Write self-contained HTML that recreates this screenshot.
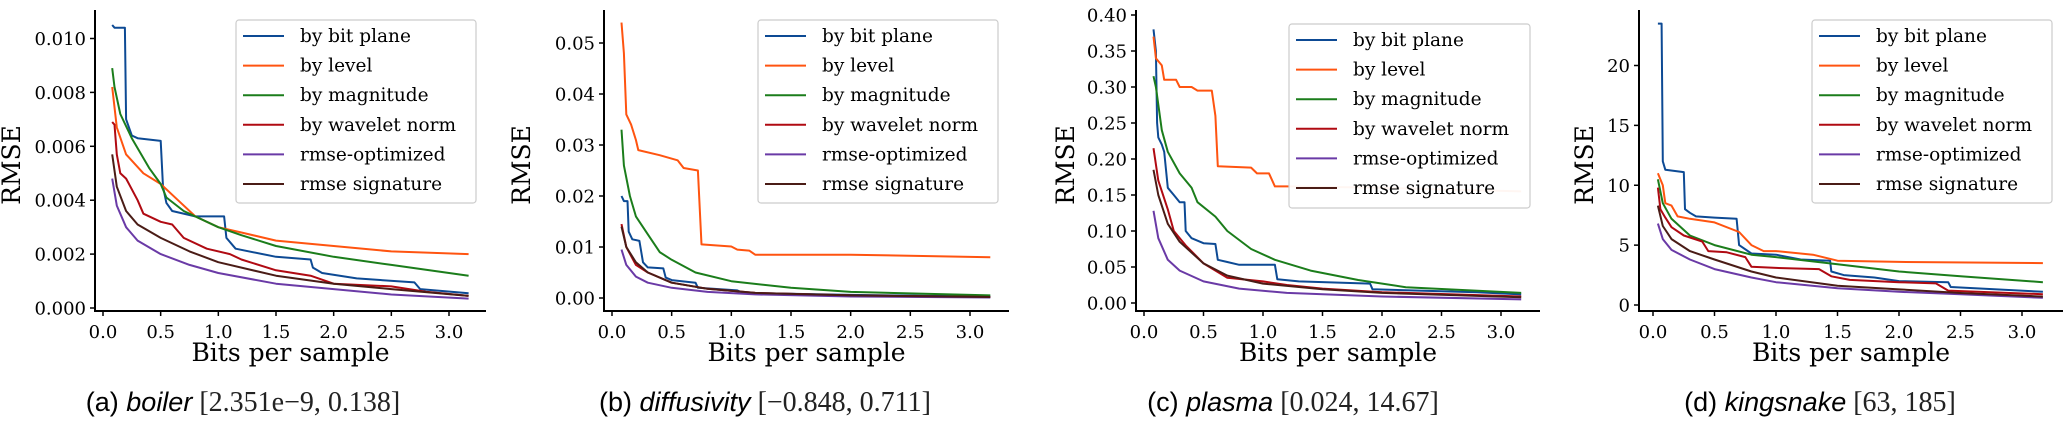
<!DOCTYPE html>
<html><head><meta charset="utf-8">
<style>
html,body{margin:0;padding:0;background:#fff;}
svg{display:block;}
.tick{font-family:"DejaVu Serif","Liberation Serif",serif;font-size:18px;fill:#000;}
.axlab{font-family:"DejaVu Serif","Liberation Serif",serif;font-size:25px;fill:#000;}
.leg{font-family:"DejaVu Serif","Liberation Serif",serif;font-size:18.5px;fill:#000;}
.cap{font-family:"Liberation Sans",sans-serif;font-size:27px;fill:#000;}
.capm{font-family:"Liberation Serif",serif;font-size:28px;fill:#222;}
</style></head>
<body>
<svg id="fig" width="2068" height="423" viewBox="0 0 2068 423" xmlns="http://www.w3.org/2000/svg"></svg>
<script>
const seriesNames = ["by bit plane","by level","by magnitude","by wavelet norm","rmse-optimized","rmse signature"];
const seriesColors = ["#0d4a94","#ff5410","#1b7d1b","#b00a12","#6a3aa6","#4a1c16"];

// Panel (a) boiler
const aX0=[0.08,0.1,0.19,0.2,0.25,0.3,0.5,0.52,0.55,0.6,0.8,1.05,1.07,1.15,1.5,1.8,1.82,1.9,2.2,2.7,2.75,3.17];
const aY0=[0.0105,0.0104,0.0104,0.007,0.0064,0.0063,0.0062,0.0045,0.0039,0.0036,0.0034,0.0034,0.0026,0.0022,0.0019,0.0018,0.0015,0.0013,0.0011,0.00095,0.0007,0.00055];
const aX1=[0.08,0.12,0.2,0.35,0.5,0.65,0.8,1.0,1.2,1.5,2.0,2.5,3.17];
const aY1=[0.0082,0.0067,0.0057,0.005,0.0046,0.004,0.0034,0.003,0.0028,0.0025,0.0023,0.0021,0.002];
const aX2=[0.08,0.1,0.15,0.25,0.4,0.5,0.55,0.7,1.0,1.2,1.5,2.0,2.5,3.17];
const aY2=[0.0089,0.0082,0.0072,0.0063,0.0052,0.0046,0.0041,0.0036,0.003,0.0027,0.0023,0.0019,0.0016,0.0012];
const aX3=[0.08,0.1,0.12,0.15,0.2,0.3,0.35,0.5,0.6,0.7,0.9,1.1,1.2,1.5,1.8,2.0,2.5,2.8,3.17];
const aY3=[0.0069,0.0068,0.0057,0.005,0.0048,0.004,0.0035,0.0032,0.0031,0.0026,0.0022,0.002,0.0018,0.0014,0.0012,0.0009,0.0008,0.0006,0.00045];
const aX4=[0.08,0.12,0.2,0.3,0.5,0.75,1.0,1.5,2.0,2.5,3.17];
const aY4=[0.0048,0.0038,0.003,0.0025,0.002,0.0016,0.0013,0.0009,0.0007,0.0005,0.00035];
const aX5=[0.08,0.12,0.2,0.3,0.5,0.75,1.0,1.5,2.0,2.5,3.17];
const aY5=[0.0057,0.0045,0.0036,0.0031,0.0026,0.0021,0.0017,0.0012,0.0009,0.0007,0.00045];
const aYTicks=[0,0.002,0.004,0.006,0.008,0.010];
const aYLabels=["0.000","0.002","0.004","0.006","0.008","0.010"];

// Panel (b) diffusivity
const bX0=[0.08,0.1,0.13,0.14,0.17,0.23,0.26,0.3,0.43,0.45,0.5,0.7,0.72,1.05,1.1,2.0,3.17];
const bY0=[0.02,0.019,0.019,0.013,0.0115,0.0112,0.007,0.006,0.0058,0.004,0.0035,0.003,0.002,0.0015,0.001,0.0006,0.0003];
const bX1=[0.08,0.1,0.12,0.16,0.2,0.22,0.4,0.55,0.6,0.72,0.75,1.0,1.05,1.15,1.2,2.0,3.17];
const bY1=[0.054,0.048,0.036,0.034,0.031,0.029,0.028,0.027,0.0255,0.025,0.0105,0.0101,0.0095,0.0093,0.0085,0.0085,0.008];
const bX2=[0.08,0.1,0.15,0.2,0.3,0.4,0.5,0.7,1.0,1.5,2.0,3.17];
const bY2=[0.033,0.026,0.02,0.016,0.0125,0.009,0.0075,0.005,0.0033,0.002,0.0012,0.0005];
const bX3=[0.08,0.12,0.2,0.3,0.5,0.8,1.2,2.0,3.17];
const bY3=[0.0145,0.01,0.0065,0.005,0.003,0.0018,0.001,0.0005,0.0002];
const bX4=[0.08,0.12,0.2,0.3,0.5,0.8,1.2,2.0,3.17];
const bY4=[0.0095,0.0065,0.0042,0.003,0.002,0.0012,0.0007,0.0003,0.0001];
const bX5=[0.08,0.12,0.2,0.3,0.5,0.8,1.2,2.0,3.17];
const bY5=[0.014,0.01,0.007,0.005,0.003,0.0018,0.001,0.0005,0.0002];
const bYTicks=[0,0.01,0.02,0.03,0.04,0.05];
const bYLabels=["0.00","0.01","0.02","0.03","0.04","0.05"];

// Panel (c) plasma
const cX0=[0.08,0.1,0.11,0.12,0.15,0.17,0.2,0.25,0.3,0.34,0.35,0.4,0.5,0.6,0.62,0.7,0.8,1.1,1.12,1.3,1.9,1.92,2.8,3.17];
const cY0=[0.38,0.35,0.25,0.23,0.22,0.21,0.16,0.15,0.14,0.14,0.1,0.09,0.083,0.082,0.06,0.057,0.053,0.053,0.033,0.03,0.027,0.019,0.015,0.012];
const cX1=[0.08,0.1,0.15,0.17,0.27,0.3,0.4,0.45,0.57,0.6,0.62,0.9,0.95,1.05,1.1,1.2,2.0,3.17];
const cY1=[0.37,0.34,0.33,0.31,0.31,0.3,0.3,0.295,0.295,0.26,0.19,0.188,0.18,0.18,0.162,0.162,0.16,0.155];
const cX2=[0.08,0.1,0.15,0.2,0.3,0.4,0.45,0.6,0.7,0.9,1.1,1.4,1.8,2.2,3.17];
const cY2=[0.315,0.3,0.24,0.21,0.18,0.16,0.14,0.12,0.1,0.075,0.06,0.045,0.032,0.022,0.014];
const cX3=[0.08,0.12,0.2,0.25,0.35,0.5,0.7,1.0,1.2,1.5,2.0,3.17];
const cY3=[0.215,0.17,0.13,0.1,0.08,0.055,0.035,0.03,0.025,0.02,0.015,0.009];
const cX4=[0.08,0.12,0.2,0.3,0.5,0.8,1.2,2.0,3.17];
const cY4=[0.128,0.09,0.06,0.045,0.03,0.02,0.014,0.009,0.005];
const cX5=[0.08,0.12,0.2,0.3,0.5,0.7,1.0,1.5,2.0,3.17];
const cY5=[0.185,0.15,0.11,0.085,0.055,0.038,0.027,0.019,0.014,0.008];
const cYTicks=[0,0.05,0.1,0.15,0.2,0.25,0.3,0.35,0.4];
const cYLabels=["0.00","0.05","0.10","0.15","0.20","0.25","0.30","0.35","0.40"];

// Panel (d) kingsnake
const dX0=[0.04,0.07,0.08,0.1,0.25,0.26,0.3,0.35,0.5,0.68,0.7,0.8,1.0,1.2,1.44,1.45,1.55,1.8,2.0,2.4,2.42,3.17];
const dY0=[23.5,23.5,12,11.3,11.1,8,7.7,7.4,7.3,7.2,5,4.3,4.2,3.8,3.7,2.8,2.5,2.3,2.0,1.9,1.5,1.1];
const dX1=[0.04,0.08,0.1,0.15,0.2,0.3,0.5,0.7,0.8,0.9,1.0,1.3,1.5,2.0,3.17];
const dY1=[11,10,8.5,8.3,7.4,7.2,6.9,6.1,5,4.5,4.5,4.2,3.7,3.6,3.5];
const dX2=[0.04,0.08,0.15,0.3,0.5,0.8,1.0,1.5,2.0,2.5,3.17];
const dY2=[10.5,8.5,7.2,5.8,5.0,4.2,4.0,3.4,2.8,2.4,1.9];
const dX3=[0.04,0.06,0.1,0.15,0.25,0.4,0.45,0.6,0.75,0.8,1.0,1.35,1.45,1.6,2.0,2.3,2.4,3.17];
const dY3=[9.8,8,7.3,6.5,5.8,5.3,4.5,4.4,4,3.2,3.1,3.0,2.4,2.1,1.9,1.8,1.2,0.9];
const dX4=[0.04,0.08,0.15,0.3,0.5,0.8,1.0,1.5,2.0,2.5,3.17];
const dY4=[6.8,5.5,4.6,3.8,3.0,2.3,1.9,1.4,1.1,0.9,0.6];
const dX5=[0.04,0.08,0.15,0.3,0.5,0.8,1.0,1.5,2.0,2.5,3.17];
const dY5=[8.3,6.6,5.5,4.5,3.8,2.8,2.3,1.6,1.3,1.0,0.7];
const dYTicks=[0,5,10,15,20];
const dYLabels=["0","5","10","15","20"];

const xTicks=[0,0.5,1,1.5,2,2.5,3];
const xLabels=["0.0","0.5","1.0","1.5","2.0","2.5","3.0"];

const NS="http://www.w3.org/2000/svg";
const svg=document.getElementById('fig');
function mk(tag,attrs,parent){const e=document.createElementNS(NS,tag);for(const k in attrs)e.setAttribute(k,attrs[k]);(parent||svg).appendChild(e);return e;}

const panels=[
 {id:'a',xs:[aX0,aX1,aX2,aX3,aX4,aX5],ys:[aY0,aY1,aY2,aY3,aY4,aY5],yt:aYTicks,yl:aYLabels,
  left:95,right:486,top:10,bottom:311,px0:103,px3:449,py0:308,pyv:38.5,vTop:0.010,lab:14,
  leg:[236,20,240,183],cap:243,capParts:["(a) ","boiler"," [2.351e−9, 0.138]"]},
 {id:'b',xs:[bX0,bX1,bX2,bX3,bX4,bX5],ys:[bY0,bY1,bY2,bY3,bY4,bY5],yt:bYTicks,yl:bYLabels,
  left:604,right:1009,top:10,bottom:311,px0:612,px3:970,py0:298,pyv:43,vTop:0.05,lab:524,
  leg:[758,20,240,183],cap:765,capParts:["(b) ","diffusivity"," [−0.848, 0.711]"]},
 {id:'c',xs:[cX0,cX1,cX2,cX3,cX4,cX5],ys:[cY0,cY1,cY2,cY3,cY4,cY5],yt:cYTicks,yl:cYLabels,
  left:1136,right:1540,top:10,bottom:311,px0:1144,px3:1501,py0:303,pyv:15,vTop:0.40,lab:1068,
  leg:[1289,24,241,184],cap:1293,capParts:["(c) ","plasma"," [0.024, 14.67]"]},
 {id:'d',xs:[dX0,dX1,dX2,dX3,dX4,dX5],ys:[dY0,dY1,dY2,dY3,dY4,dY5],yt:dYTicks,yl:dYLabels,
  left:1639,right:2063,top:10,bottom:311,px0:1653,px3:2022,py0:305,pyv:65.5,vTop:20,lab:1587,
  leg:[1812,20,240,183],cap:1820,capParts:["(d) ","kingsnake"," [63, 185]"]}
];

panels.forEach(p=>{
  const g=mk('g',{});
  
  
  const sx=v=>p.px0+(p.px3-p.px0)*v/3;
  const sy=v=>p.py0-(p.py0-p.pyv)*v/p.vTop;
  for(let s=0;s<6;s++){
    const d=p.xs[s].map((x,i)=>(i?'L':'M')+sx(x).toFixed(1)+' '+sy(p.ys[s][i]).toFixed(1)).join(' ');
    const path=mk('path',{d:d,fill:'none',stroke:seriesColors[s],'stroke-width':2,'stroke-linejoin':'round'},g);
    
    
  }
  const sl=mk('line',{x1:p.left,y1:p.top,x2:p.left,y2:p.bottom+1,stroke:'#000','stroke-width':2},g);
  
  
  const sb=mk('line',{x1:p.left-1,y1:p.bottom,x2:p.right,y2:p.bottom,stroke:'#000','stroke-width':2},g);
  
  
  p.yt.forEach((v,i)=>{
    mk('line',{x1:p.left-5,y1:sy(v),x2:p.left,y2:sy(v),stroke:'#000','stroke-width':1.5},g);
    const t=mk('text',{x:p.left-9,y:sy(v)+6.5,'text-anchor':'end',class:'tick'},g);
    t.textContent=p.yl[i];
    
    
  });
  xTicks.forEach((v,i)=>{
    mk('line',{x1:sx(v),y1:p.bottom,x2:sx(v),y2:p.bottom+5,stroke:'#000','stroke-width':1.5},g);
    const t=mk('text',{x:sx(v),y:p.bottom+27,'text-anchor':'middle',class:'tick'},g);
    t.textContent=xLabels[i];
    
    
  });
  const xl=mk('text',{x:(p.left+p.right)/2,y:361,'text-anchor':'middle',class:'axlab'},g);
  xl.textContent='Bits per sample';
  
  
  const yl=mk('text',{x:0,y:0,'text-anchor':'middle',class:'axlab',transform:`translate(${p.lab+6},165) rotate(-90)`},g);
  yl.textContent='RMSE';
  
  
  const [lx,ly,lw,lh]=p.leg;
  const lg=mk('g',{},g);
  
  
  mk('rect',{x:lx,y:ly,width:lw,height:lh,rx:3,fill:'rgba(255,255,255,0.95)',stroke:'#cccccc','stroke-width':1.2},lg);
  for(let s=0;s<6;s++){
    const yy=ly+16+s*29.6;
    const e=mk('g',{},lg);
    
    
    mk('line',{x1:lx+7,y1:yy,x2:lx+48,y2:yy,stroke:seriesColors[s],'stroke-width':2},e);
    const t=mk('text',{x:lx+64,y:yy+6,class:'leg'},e);
    t.textContent=seriesNames[s];
  }
  const c=mk('text',{x:p.cap,y:411,'text-anchor':'middle'},g);
  
  
  const t1=mk('tspan',{class:'cap'},c);t1.textContent=p.capParts[0];
  const t2=mk('tspan',{class:'cap','font-style':'italic'},c);t2.textContent=p.capParts[1];
  const t3=mk('tspan',{class:'capm'},c);t3.textContent=p.capParts[2];
});
</script>
</body></html>
